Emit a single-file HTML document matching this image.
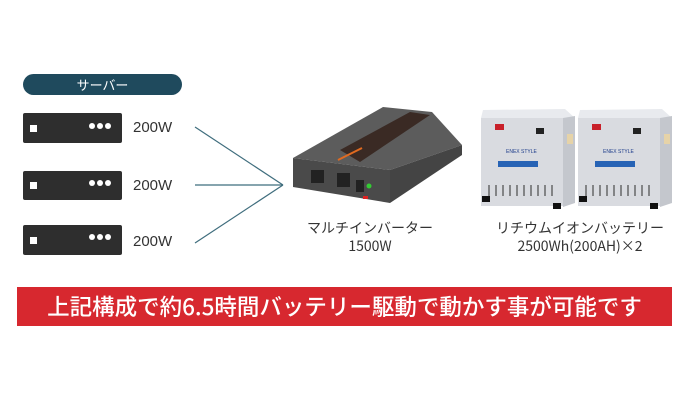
<!DOCTYPE html>
<html><head><meta charset="utf-8"><style>
body{margin:0;width:700px;height:400px;background:#fff;position:relative;overflow:hidden;font-family:"Liberation Sans","Noto Sans CJK JP",sans-serif}
.t{position:absolute;color:#333;font-family:"Noto Sans CJK JP","Liberation Sans",sans-serif}
</style></head><body>
<svg width="700" height="400" style="position:absolute;left:0;top:0">
<rect x="23" y="74" width="159" height="21" rx="10.5" fill="#1f4a5d"/>
<g fill="#2e2e2e">
<rect x="23" y="113" width="99" height="30" rx="2"/>
<rect x="23" y="171" width="99" height="29" rx="2"/>
<rect x="23" y="225" width="99" height="30" rx="2"/>
</g>
<g fill="#fff">
<rect x="30" y="125" width="7" height="7"/><circle cx="92" cy="126" r="3"/><circle cx="100" cy="126" r="3"/><circle cx="108" cy="126" r="3"/>
<rect x="30" y="182" width="7" height="7"/><circle cx="92" cy="183" r="3"/><circle cx="100" cy="183" r="3"/><circle cx="108" cy="183" r="3"/>
<rect x="30" y="237" width="7" height="7"/><circle cx="92" cy="237" r="3"/><circle cx="100" cy="237" r="3"/><circle cx="108" cy="237" r="3"/>
</g>
<g stroke="#3f6d7d" stroke-width="1.2" fill="none">
<line x1="195" y1="127" x2="283" y2="185"/>
<line x1="195" y1="185" x2="283" y2="185"/>
<line x1="195" y1="243" x2="283" y2="185"/>
</g>
<!-- inverter -->
<polygon points="293,158 383,107 432,112 462,145 390,170" fill="#5c5c5c"/>
<polygon points="340,150 410,112 430,115 360,162" fill="#3a2a24"/>
<line x1="338" y1="160" x2="362" y2="148" stroke="#e06a20" stroke-width="2"/>
<polygon points="390,170 462,145 462,155 390,203" fill="#444"/>
<polygon points="293,158 390,170 390,203 293,187" fill="#4a4a4a"/>
<rect x="311" y="170" width="13" height="13" fill="#222"/>
<rect x="337" y="173" width="13" height="14" fill="#222"/>
<rect x="356" y="180" width="8" height="12" fill="#222"/>
<circle cx="369" cy="186" r="2.5" fill="#3c3"/>
<rect x="363" y="196" width="5" height="3" fill="#d22"/>
<!-- batteries -->
<g id="b">
<polygon points="483,110 565,109 575,118 481,118" fill="#e8eaee"/>
<rect x="481" y="118" width="82" height="88" fill="#d9dbe0"/>
<polygon points="563,118 575,116 575,203 563,207" fill="#c4c7cd"/>
<rect x="495" y="124" width="9" height="6" fill="#c8202a"/>
<rect x="536" y="128" width="8" height="6" fill="#222"/>
<rect x="567" y="134" width="6" height="10" fill="#e6d3a8"/>
<text x="506" y="153" font-size="5" fill="#1d3c8a" font-family="Liberation Sans">ENEX STYLE</text>
<rect x="498" y="161" width="40" height="6" fill="#2763b5"/>
<g stroke="#555" stroke-width="1.3"><line x1="489" y1="185" x2="489" y2="196"/><line x1="496" y1="185" x2="496" y2="196"/><line x1="503" y1="185" x2="503" y2="196"/><line x1="510" y1="185" x2="510" y2="196"/><line x1="517" y1="185" x2="517" y2="196"/><line x1="524" y1="185" x2="524" y2="196"/><line x1="531" y1="185" x2="531" y2="196"/><line x1="538" y1="185" x2="538" y2="196"/><line x1="545" y1="185" x2="545" y2="196"/><line x1="552" y1="185" x2="552" y2="196"/></g>
<rect x="482" y="196" width="8" height="6" fill="#111"/><rect x="553" y="203" width="8" height="6" fill="#111"/>
</g>
<use href="#b" x="97"/>
<rect x="17" y="287" width="655" height="39" fill="#d7282f"/>
</svg>
<div class="t" style="left:23px;top:74px;width:159px;text-align:center;color:#fff;font-size:13px;line-height:21px">サーバー</div>
<div class="t" style="left:133px;top:119px;font-size:15px;font-family:'Liberation Sans',sans-serif">200W</div>
<div class="t" style="left:133px;top:177px;font-size:15px;font-family:'Liberation Sans',sans-serif">200W</div>
<div class="t" style="left:133px;top:233px;font-size:15px;font-family:'Liberation Sans',sans-serif">200W</div>
<div class="t" style="left:290px;top:219px;width:160px;text-align:center;font-size:14px;line-height:18px">マルチインバーター<br>1500W</div>
<div class="t" style="left:490px;top:219px;width:180px;text-align:center;font-size:14px;line-height:18px">リチウムイオンバッテリー<br>2500Wh(200AH)×2</div>
<div class="t" style="left:17px;top:287px;width:655px;text-align:center;color:#fff;font-size:22.5px;line-height:39px;font-weight:500">上記構成で約6.5時間バッテリー駆動で動かす事が可能です</div>
</body></html>
